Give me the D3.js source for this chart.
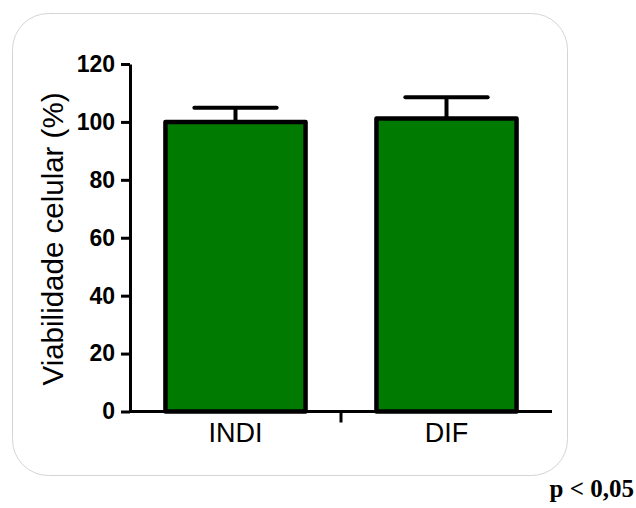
<!DOCTYPE html>
<html>
<head>
<meta charset="utf-8">
<script src="https://cdn.jsdelivr.net/npm/d3@7"></script>
<style>
  html, body { margin: 0; padding: 0; background: #fff; }
  svg { display: block; }
</style>
</head>
<body>
<svg id="chart" width="636" height="508"></svg>
<script>
// Cell viability per group (mean and SEM, %)
const categories = ["INDI", "DIF"];
const means = [100, 101.2];
const sems = [4.9, 7.3];
const yTicks = [0, 20, 40, 60, 80, 100, 120];
const yTitle = "Viabilidade celular (%)";
const note = "p < 0,05";

const svg = d3.select("#chart");

// Rounded panel behind the plot
svg.append("rect")
  .attr("x", 12.5).attr("y", 13.5)
  .attr("width", 555).attr("height", 462)
  .attr("rx", 36).attr("ry", 36)
  .attr("fill", "#fff")
  .attr("stroke", "#d4d4d4")
  .attr("stroke-width", 1);

const x0 = 130, x1 = 552, yBase = 411.5, yTop = 64;

const y = d3.scaleLinear().domain([0, 120]).range([yBase, yTop]);
const x = d3.scaleBand().domain(categories).range([x0, x1]).padding(0);
const barW = x.bandwidth() * 0.664;
const capW = x.bandwidth() * 0.39;

const data = categories.map((c, i) => ({ c, m: means[i], s: sems[i] }));

// Error bars (upper half only)
const eb = svg.append("g").attr("stroke", "#000").attr("stroke-width", 4).attr("stroke-linecap", "round");
eb.selectAll("line.stem").data(data).join("line")
  .attr("class", "stem")
  .attr("x1", d => x(d.c) + x.bandwidth() / 2)
  .attr("x2", d => x(d.c) + x.bandwidth() / 2)
  .attr("y1", d => y(d.m))
  .attr("y2", d => y(d.m + d.s))
  .attr("stroke-linecap", "butt");
eb.selectAll("line.cap").data(data).join("line")
  .attr("class", "cap")
  .attr("x1", d => x(d.c) + x.bandwidth() / 2 - capW / 2)
  .attr("x2", d => x(d.c) + x.bandwidth() / 2 + capW / 2)
  .attr("y1", d => y(d.m + d.s))
  .attr("y2", d => y(d.m + d.s));

// Bars
svg.append("g").selectAll("rect").data(data).join("rect")
  .attr("x", d => x(d.c) + (x.bandwidth() - barW) / 2)
  .attr("y", d => y(d.m))
  .attr("width", barW)
  .attr("height", d => y(0) - y(d.m))
  .attr("fill", "#007a00")
  .attr("stroke", "#000")
  .attr("stroke-width", 4.5)
  .attr("stroke-linejoin", "round");

// Y axis
const yAxis = svg.append("g")
  .attr("transform", `translate(${x0},0)`)
  .call(d3.axisLeft(y).tickValues(yTicks).tickSize(9).tickSizeOuter(0).tickPadding(6));
yAxis.select(".domain").attr("stroke", "#000").attr("stroke-width", 3);
yAxis.selectAll(".tick line").attr("stroke", "#000").attr("stroke-width", 3);
yAxis.selectAll(".tick text")
  .attr("font-family", "Liberation Sans, Arial, sans-serif")
  .attr("font-weight", "bold")
  .attr("font-size", 23)
  .attr("fill", "#000");

// X axis: baseline, one divider tick between groups, category labels
const xg = svg.append("g");
xg.append("line")
  .attr("x1", x0).attr("x2", x1)
  .attr("y1", yBase).attr("y2", yBase)
  .attr("stroke", "#000").attr("stroke-width", 3);
xg.append("line")
  .attr("x1", x(categories[1])).attr("x2", x(categories[1]))
  .attr("y1", yBase).attr("y2", yBase + 11)
  .attr("stroke", "#000").attr("stroke-width", 3);
xg.selectAll("text").data(categories).join("text")
  .attr("x", d => x(d) + x.bandwidth() / 2)
  .attr("y", 442)
  .attr("text-anchor", "middle")
  .attr("font-family", "Liberation Sans, Arial, sans-serif")
  .attr("font-size", 27)
  .attr("fill", "#000")
  .text(d => d);

// Y axis title
svg.append("text")
  .attr("transform", "translate(63,239) rotate(-90)")
  .attr("text-anchor", "middle")
  .attr("font-family", "Liberation Sans, Arial, sans-serif")
  .attr("font-size", 29.5)
  .attr("fill", "#000")
  .text(yTitle);

// Significance note
svg.append("text")
  .attr("x", 634).attr("y", 497)
  .attr("text-anchor", "end")
  .attr("font-family", "Liberation Serif, serif")
  .attr("font-weight", "bold")
  .attr("font-size", 25)
  .attr("fill", "#000")
  .text(note);
</script>
</body>
</html>
